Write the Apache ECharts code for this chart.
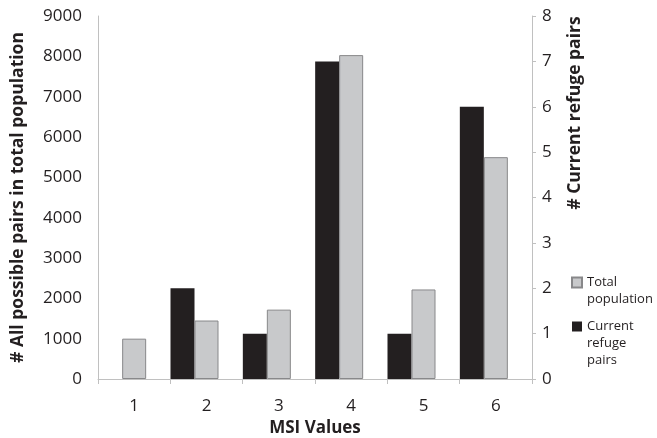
<!DOCTYPE html>
<html>
<head>
<meta charset="utf-8">
<script src="https://cdn.jsdelivr.net/npm/echarts@6/dist/echarts.min.js"></script>
<style>html,body{margin:0;padding:0;background:#fff;}#c{width:657px;height:438px;}</style>
</head>
<body>
<div id="c"></div>
<script>
var categories = ['1', '2', '3', '4', '5', '6'];
var totalPopulation = [1000, 1450, 1720, 8030, 2220, 5500];
var currentRefugePairs = [0, 2, 1, 7, 1, 6];
var leftTicks = [0, 1000, 2000, 3000, 4000, 5000, 6000, 7000, 8000, 9000];
var rightTicks = [0, 1, 2, 3, 4, 5, 6, 7, 8];
var legendLabels = {
  'Total population': ['Total', 'population'],
  'Current refuge pairs': ['Current', 'refuge', 'pairs']
};

var FONT = 'Open Sans';
var chart = echarts.init(document.getElementById('c'), null, {renderer: 'canvas'});
var axisGray = '#c0c0c0';
chart.setOption({
  animation: false,
  textStyle: {fontFamily: FONT},
  grid: {left: 98, right: 125, top: 16, bottom: 59, containLabel: false, outerBoundsMode: 'none'},
  legend: {
    orient: 'vertical',
    left: 571,
    top: 257,
    itemWidth: 10,
    itemHeight: 10,
    itemGap: -24,
    padding: 0,
    selectedMode: false,
    textStyle: {fontFamily: FONT, fontSize: 13, color: '#231f20', lineHeight: 17},
    data: [
      {name: 'Total population', icon: 'rect'},
      {name: 'Current refuge pairs', icon: 'rect'}
    ],
    formatter: function (n) {
      var lines = legendLabels[n];
      var pad = [];
      for (var i = 1; i < lines.length; i++) pad.push(' ');
      return pad.concat(lines).join('\n');
    }
  },
  xAxis: {
    type: 'category',
    data: categories,
    name: 'MSI Values',
    nameLocation: 'middle',
    nameGap: 40,
    nameTextStyle: {fontFamily: FONT, fontWeight: 'bold', fontSize: 17, color: '#231f20', verticalAlign: 'top'},
    axisLine: {lineStyle: {color: axisGray, width: 1}},
    axisTick: {show: true, length: 5, lineStyle: {color: axisGray}},
    axisLabel: {fontFamily: FONT, fontSize: 17, color: '#231f20', margin: 19}
  },
  yAxis: [
    {
      type: 'value',
      min: 0, max: 9000, interval: 1000,
      name: '# All possible pairs in total population',
      nameLocation: 'middle',
      nameGap: 71,
      nameTextStyle: {fontFamily: FONT, fontWeight: 'bold', fontSize: 17.5, color: '#231f20'},
      axisLine: {show: true, lineStyle: {color: axisGray}},
      axisTick: {show: false},
      splitLine: {show: false},
      axisLabel: {fontFamily: FONT, fontSize: 17, color: '#231f20', margin: 16, formatter: function (v) { return String(v); }}
    },
    {
      type: 'value',
      min: 0, max: 8, interval: 1,
      position: 'right',
      axisLine: {show: true, lineStyle: {color: axisGray}},
      axisTick: {show: true, length: 4, lineStyle: {color: axisGray}},
      splitLine: {show: false},
      axisLabel: {fontFamily: FONT, fontSize: 17, color: '#231f20', margin: 10}
    }
  ],
  graphic: [{
    type: 'text',
    x: 575, y: 113,
    rotation: Math.PI / 2,
    style: {text: '# Current refuge pairs', fontFamily: FONT, fontWeight: 'bold', fontSize: 17.5, fill: '#231f20', align: 'center', verticalAlign: 'middle'}
  }],
  series: [
    {
      name: 'Current refuge pairs', type: 'bar', yAxisIndex: 1,
      data: currentRefugePairs, barWidth: 24, barGap: '0%',
      itemStyle: {color: '#231f20'}
    },
    {
      name: 'Total population', type: 'bar', yAxisIndex: 0,
      data: totalPopulation, barWidth: 24, barGap: '0%',
      itemStyle: {color: '#c8c9cb', borderColor: '#88888a', borderWidth: 1}
    },
    {
      name: 'spacer', type: 'bar', yAxisIndex: 0, data: [], barWidth: 24, barGap: '0%'
    }
  ]
});
</script>
</body>
</html>
